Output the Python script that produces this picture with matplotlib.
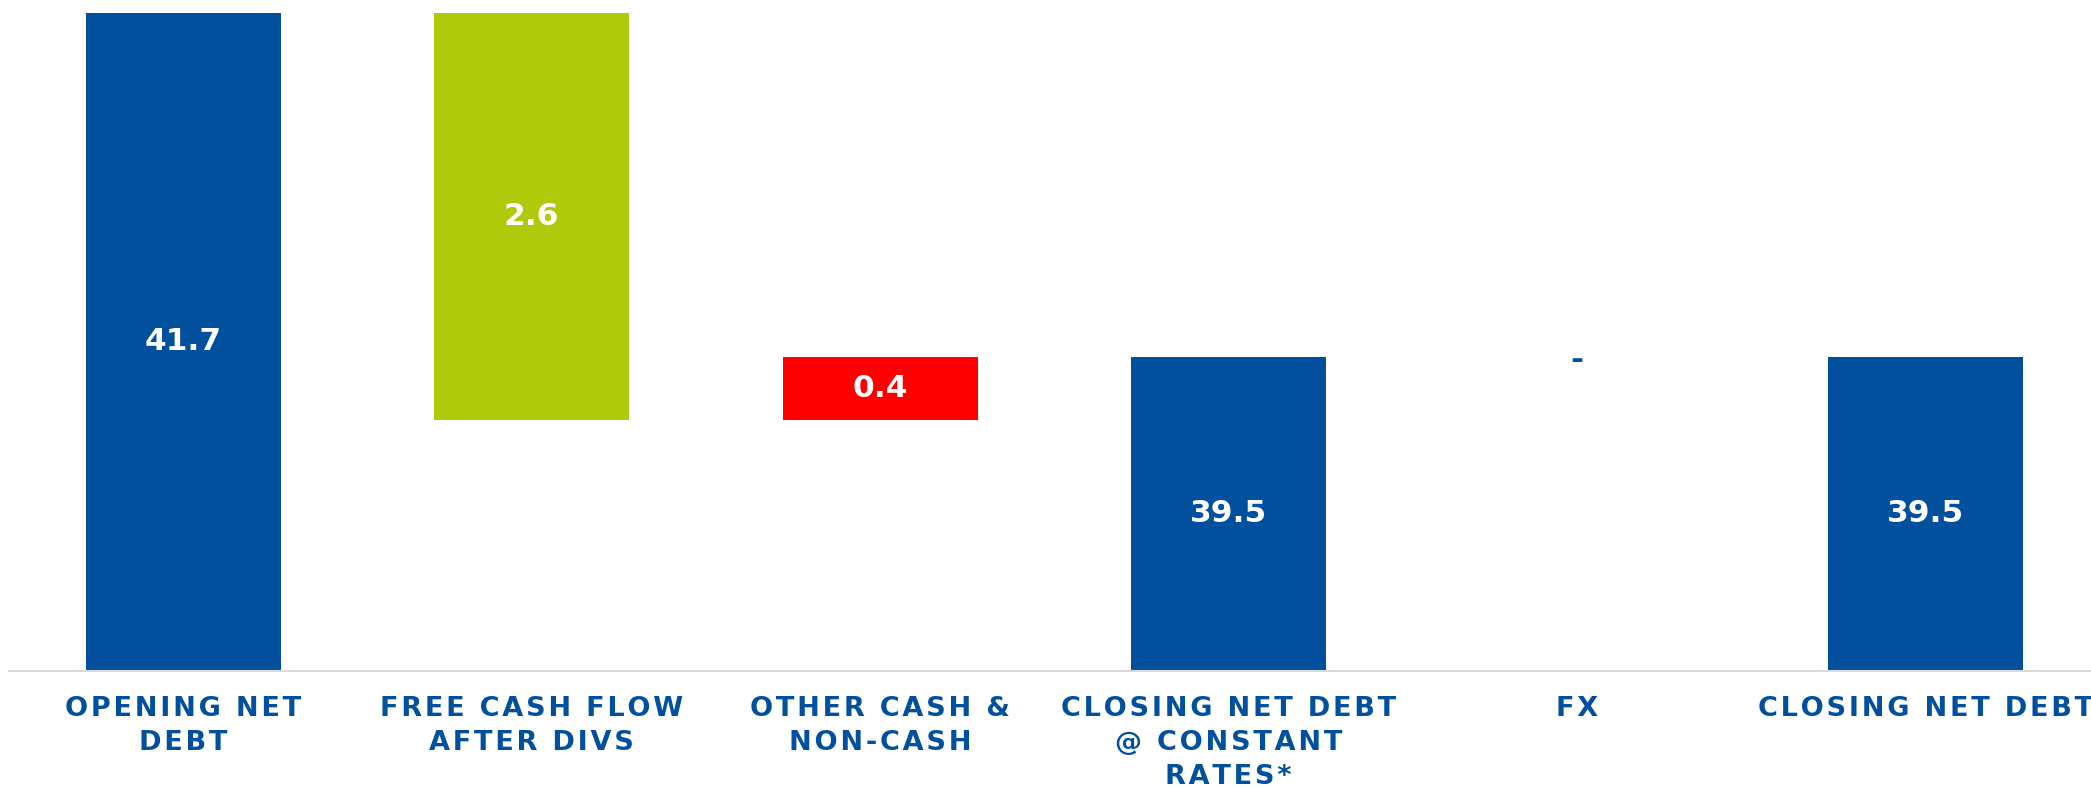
import numpy as np
import matplotlib.pyplot as plt

# net debt bridge (bn)
etapas = ['OPENING NET\nDEBT', 'FREE CASH FLOW\nAFTER DIVS', 'OTHER CASH &\nNON-CASH',
          'CLOSING NET DEBT\n@ CONSTANT\nRATES*', 'FX', 'CLOSING NET DEBT']
valores = [41.7, -2.6, 0.4, 39.5, 0.0, 39.5]
tipos = ['total', 'delta', 'delta', 'total', 'delta', 'total']
rotulos = ['41.7', '2.6', '0.4', '39.5', '-', '39.5']

azul = '#00509E'
verde = '#AFCA0B'
vermelho = '#FF0000'

base_eixo = 37.5
topo_eixo = 41.78


def espacar(texto):
    # letter spacing like the original slide font
    return '\n'.join('\u200a'.join(linha) for linha in texto.split('\n'))


fig = plt.figure(figsize=(20.91, 7.88), dpi=100)
ax = fig.add_axes([9 / 2091, 1 - 670.7 / 788, 1 - 9 / 2091, 670.7 / 788])

x = np.arange(len(etapas))
acumulado = 0.0
for i, (v, t, r) in enumerate(zip(valores, tipos, rotulos)):
    if t == 'total':
        fundo = base_eixo
        altura = v - base_eixo
        cor = azul
        acumulado = v
    else:
        fundo = min(acumulado, acumulado + v)
        altura = abs(v)
        cor = verde if v < 0 else vermelho
        acumulado = acumulado + v
    if altura > 0:
        ax.bar(x[i], altura, bottom=fundo, width=0.56, color=cor, zorder=2)
        ax.text(x[i], fundo + altura / 2, r, ha='center', va='center',
                color='white', fontsize=22.5, fontweight='bold')
    else:
        ax.text(x[i], acumulado - 0.02, r, ha='center', va='center',
                color=azul, fontsize=22.5, fontweight='bold')

ax.set_xlim(-0.5, 5.475)
ax.set_ylim(base_eixo, topo_eixo)
ax.set_xticks(x)
ax.set_xticklabels([espacar(e) for e in etapas], fontsize=19.5, fontweight='bold',
                   color=azul, linespacing=1.42)
ax.tick_params(axis='x', length=0, pad=18)
ax.set_yticks([])
for lado in ['top', 'right', 'left']:
    ax.spines[lado].set_visible(False)
ax.spines['bottom'].set_color('#d9d9d9')
ax.spines['bottom'].set_linewidth(1.5)

fig.savefig('out.png', dpi=100)
